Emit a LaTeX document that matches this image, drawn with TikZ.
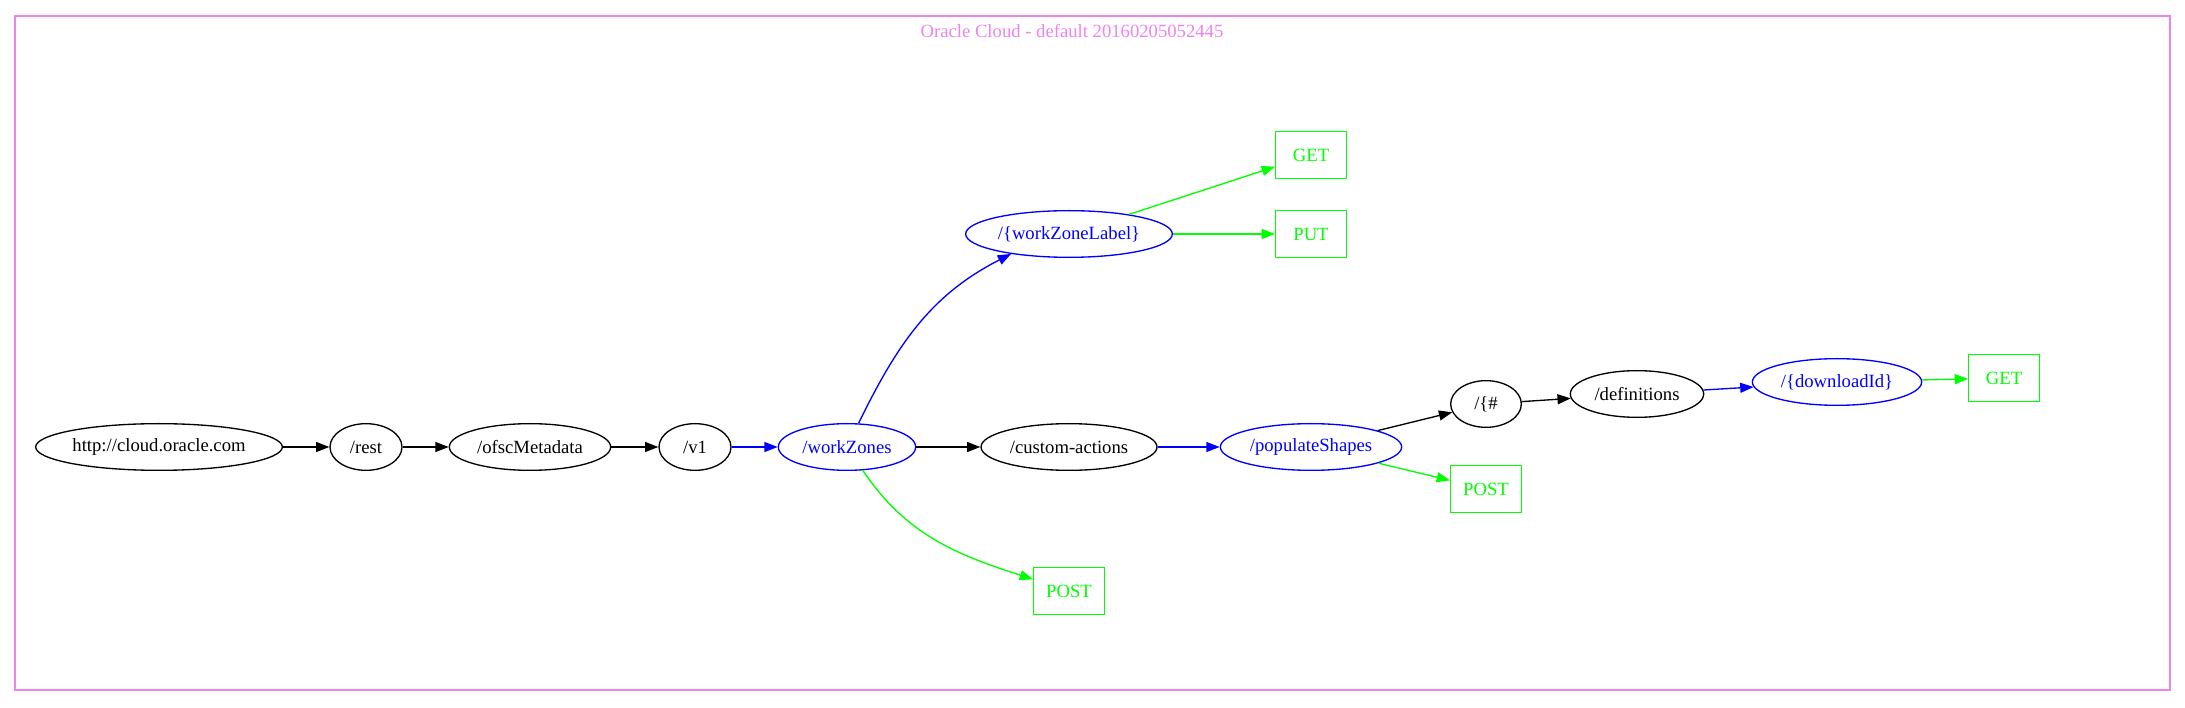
\documentclass[tikz,border=0pt]{standalone}
\usepackage{fontspec}
\setmainfont{Liberation Serif}
\usetikzlibrary{arrows.meta, shapes.geometric}
\definecolor{gvblue}{HTML}{0000FF}
\definecolor{gvgreen}{HTML}{00FF00}
\definecolor{gvviolet}{HTML}{EE82EE}
\newcommand{\gvlabel}[1]{\makebox[0pt]{#1}}

\begin{document}
\begin{tikzpicture}[x=0.75pt, y=0.75pt,
    res/.style={ellipse, draw, line width=1pt, inner sep=0pt,
                minimum width=#1, minimum height=35pt,
                font=\fontsize{14}{16}\selectfont},
    bres/.style={res=#1, draw=gvblue, text=gvblue},
    meth/.style={rectangle, draw=gvgreen, text=gvgreen, line width=1pt,
                 minimum width=53pt, minimum height=35pt,
                 font=\fontsize{14}{16}\selectfont},
    arr/.style={-{Triangle[length=10pt, width=7.5pt]}, line width=1pt}
  ]
    \useasboundingbox (0,0) rectangle (2185,707);
    \draw[gvviolet, line width=0.8pt] (15,17) rectangle (2170,691);
    \node[text=gvviolet, font=\fontsize{14}{16}\selectfont] (title) at (1072,676)
      {Oracle Cloud - default 20160205052445};

    % main path
    \node[res=185pt]  (root)   at (159,260)  {\gvlabel{http://cloud.oracle.com}};
    \node[res=54pt]   (rest)   at (366,260)  {\gvlabel{/rest}};
    \node[res=121pt]  (meta)   at (530,260)  {\gvlabel{/ofscMetadata}};
    \node[res=54pt]   (vone)   at (695,260)  {\gvlabel{/v1}};
    \node[bres=103pt] (zones)  at (847,260)  {\gvlabel{/workZones}};
    \node[res=132pt]  (custom) at (1069,260) {\gvlabel{/custom-actions}};
    \node[bres=136pt] (shapes) at (1311,260) {\gvlabel{/populateShapes}};

    % work zone label branch
    \node[bres=155pt] (zlabel) at (1069,473) {\gvlabel{/\{workZoneLabel\}}};
    \node[meth] (zget)  at (1311,552) {GET};
    \node[meth] (zput)  at (1311,473) {PUT};
    \node[meth] (zpost) at (1069,116) {POST};

    % download branch
    \node[res=53pt]   (hash)  at (1486,303) {\gvlabel{/\{\#}};
    \node[res=100pt]  (defs)  at (1637,313) {\gvlabel{/definitions}};
    \node[bres=127pt] (dlid)  at (1837,325) {\gvlabel{/\{downloadId\}}};
    \node[meth] (dlget) at (2004,329) {GET};
    \node[meth] (spost) at (1486,218) {POST};

    \draw[arr] (root) -- (rest);
    \draw[arr] (rest) -- (meta);
    \draw[arr] (meta) -- (vone);
    \draw[arr, gvblue] (vone) -- (zones);
    \draw[arr] (zones) -- (custom);
    \draw[arr, gvblue] (custom) -- (shapes);
    \draw[arr, gvblue] (zones) to[out=64, in=207] (zlabel.199);
    \draw[arr, gvgreen] (zones) to[out=-56, in=162] (zpost);
    \draw[arr, gvgreen] (zlabel) -- (zget);
    \draw[arr, gvgreen] (zlabel) -- (zput);
    \draw[arr] (shapes) -- (hash);
    \draw[arr, gvgreen] (shapes) -- (spost);
    \draw[arr] (hash) -- (defs);
    \draw[arr, gvblue] (defs) -- (dlid);
    \draw[arr, gvgreen] (dlid) -- (dlget);
  \end{tikzpicture}
\end{document}
